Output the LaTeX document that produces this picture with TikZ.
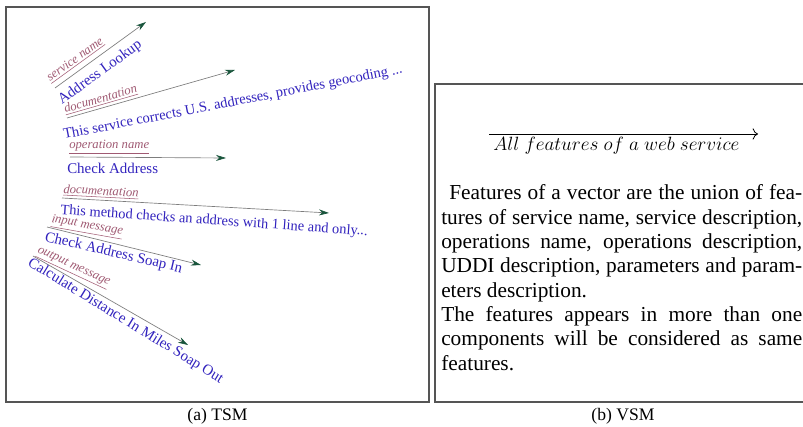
\documentclass[tikz,border=0pt]{standalone}
\usepackage{fontspec}
\setmainfont{Liberation Serif}
\usetikzlibrary{arrows.meta}
\definecolor{labc}{RGB}{160,90,115}
\definecolor{bluc}{RGB}{50,35,190}
\definecolor{linc}{RGB}{125,125,125}
\definecolor{tipc}{RGB}{25,85,60}
\definecolor{frmc}{RGB}{85,85,85}
\begin{document}
\begin{tikzpicture}[x=0.75pt,y=-0.75pt,
  lab/.style={font=\fontsize{9.5}{11}\selectfont\itshape, text=labc, inner sep=0, anchor=base west},
  txt/.style={font=\fontsize{11.2}{13}\selectfont, text=bluc, inner sep=0, anchor=base west},
  flow/.style={draw=linc, line width=0.5pt, -{Stealth[length=7.5pt,width=4.5pt,color=tipc]}},
  framebox/.style={draw=frmc, line width=1.1pt},
  captext/.style={font=\fontsize{13.2}{15}\selectfont, inner sep=0},
  para/.style={font=\fontsize{16}{19}\selectfont, inner sep=0, anchor=base west}]
\clip (0,0) rectangle (803,427);
\fill[white] (0,0) rectangle (803,427);
% frames
\draw[framebox] (6,7) rectangle (429,402);
\draw[framebox] (435,84) rectangle (811,402);
% item 1
\node[lab, rotate=36] (l1) at (50,82) {\underline{service name}};
\coordinate (a1s) at (55,88); \coordinate (a1e) at (146,22);
\draw[flow] (a1s) -- (a1e);
\node[txt, rotate=36] (t1) at (62,105) {Address Lookup};
% item 2
\node[lab, rotate=16] (l2) at (65,113) {\underline{documentation}};
\coordinate (a2s) at (67,118); \coordinate (a2e) at (235,70);
\draw[flow] (a2s) -- (a2e);
\node[txt, rotate=11, font=\fontsize{10.9}{13}\selectfont] (t2) at (64,139) {This service corrects U.S. addresses, provides geocoding ...};
% item 3
\node[lab] (l3) at (69,149) {\underline{operation name}};
\coordinate (a3s) at (70,157); \coordinate (a3e) at (226,158);
\draw[flow] (a3s) -- (a3e);
\node[txt] (t3) at (67,174) {Check Address};
% item 4
\node[lab, rotate=-3] (l4) at (63,193) {\underline{documentation}};
\coordinate (a4s) at (62,198); \coordinate (a4e) at (329,213);
\draw[flow] (a4s) -- (a4e);
\node[txt, rotate=-4, font=\fontsize{10.8}{13}\selectfont] (t4) at (60,214) {This method checks an address with 1 line and only...};
% item 5
\node[lab, rotate=-10] (l5) at (51,222) {\underline{input message}};
\coordinate (a5s) at (47,227); \coordinate (a5e) at (201,265);
\draw[flow] (a5s) -- (a5e);
\node[txt, rotate=-13] (t5) at (44,241) {Check Address Soap In};
% item 6
\node[lab, rotate=-25] (l6) at (37,252) {\underline{output message}};
\coordinate (a6s) at (33,256); \coordinate (a6e) at (188,345);
\draw[flow] (a6s) -- (a6e);
\node[txt, rotate=-31.5] (t6) at (27,265) {Calculate Distance In Miles Soap Out};
% right panel
\coordinate (vs) at (489,134); \coordinate (ve) at (758,134);
\draw[line width=0.6pt, -{To[length=4pt]}] (vs) -- (ve);
\node[anchor=base west, inner sep=0, font=\fontsize{15.5}{17}\selectfont] (allf) at (493,151) {$All\ features\ of\ a\ web\ service$};
\node[para] (p1) at (449,200.0) {\makebox[264.75pt][s]{Features of a vector are the union of fea-}};
\node[para] (p2) at (441,224.3) {\makebox[270.75pt][s]{tures of service name, service description,}};
\node[para] (p3) at (441,248.6) {\makebox[270.75pt][s]{operations name, operations description,}};
\node[para] (p4) at (441,272.9) {\makebox[270.75pt][s]{UDDI description, parameters and param-}};
\node[para] (p5) at (441,297.2) {eters description.};
\node[para] (p6) at (441,321.5) {\makebox[270.75pt][s]{The features appears in more than one}};
\node[para] (p7) at (441,345.8) {\makebox[270.75pt][s]{components will be considered as same}};
\node[para] (p8) at (441,370.1) {features.};
% captions
\node[captext] (ca) at (217.5,416) {(a)~TSM};
\node[captext] (cb) at (623,416) {(b)~VSM};
\end{tikzpicture}
\end{document}
